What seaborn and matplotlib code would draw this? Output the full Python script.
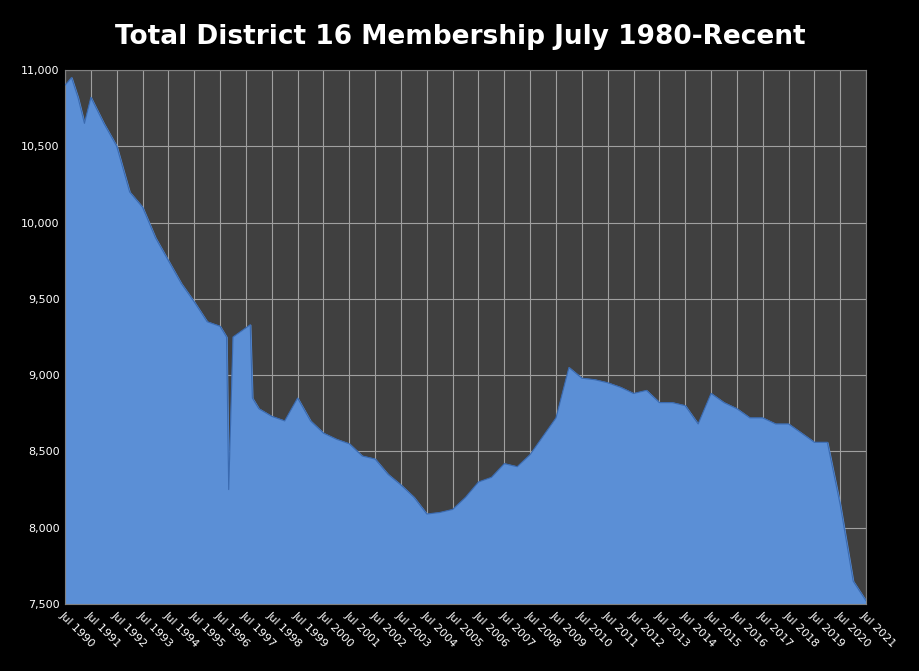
import matplotlib
matplotlib.use("Agg")
import matplotlib.pyplot as plt
import numpy as np
import pandas as pd
import seaborn as sns

# semiannual readings, starting Jul 1990 (index = months since Jul 1990)
months = [0, 3, 6, 9, 12, 18, 24, 30, 36, 42, 48, 54, 60, 66, 72, 75, 76, 78, 84, 86, 87, 90,
          96, 102, 108, 114, 120, 126, 132, 138, 144, 150, 156, 162, 168, 174, 180,
          186, 192, 198, 204, 210, 216, 222, 228, 234, 240, 246, 252, 258, 264,
          270, 276, 282, 288, 294, 300, 306, 312, 318, 324, 330, 336, 342, 348,
          354, 360, 366, 372]
members = [10900, 10950, 10820, 10650, 10820, 10650, 10500, 10200, 10100, 9900, 9750, 9600,
           9480, 9350, 9320, 9250, 8250, 9250, 9310, 9330, 8850, 8780,
           8730, 8700, 8850, 8700, 8620, 8580, 8550, 8470, 8450, 8350, 8280, 8200,
           8090, 8100, 8120, 8200, 8300, 8330, 8420, 8400, 8480, 8600, 8720, 9050,
           8980, 8970, 8950, 8920, 8880, 8900, 8820, 8820, 8800, 8680, 8880, 8820,
           8780, 8720, 8720, 8680, 8680, 8620, 8560, 8560, 8150, 7650, 7520]
years = list(range(1990, 2022))
tick_labels = [f"Jul {y}" for y in years]

df = pd.DataFrame({"month": months, "members": members})

sns.set_style("dark")
fig = plt.figure(figsize=(9.2, 6.71), dpi=100, facecolor="black")
ax = fig.add_axes([0.0707, 0.0998, 0.8707, 0.796])
ax.set_facecolor("#404040")

ax.fill_between(df["month"], 7500, df["members"], color="#5B8FD6", zorder=2)
sns.lineplot(data=df, x="month", y="members", ax=ax, color="#3A6AB0", linewidth=0.8, zorder=3)

ax.set_xlim(0, 372)
ax.set_ylim(7500, 11000)
ax.set_xticks([12 * i for i in range(len(years))])
ax.set_xticklabels(tick_labels, rotation=-45, ha="left", rotation_mode="anchor",
                   color="white", fontsize=8)
ax.set_yticks(range(7500, 11001, 500))
ax.set_yticklabels([f"{v:,}" for v in range(7500, 11001, 500)], color="white", fontsize=8)
ax.grid(True, color="#A0A0A0", linewidth=0.8, zorder=1)
ax.set_axisbelow(True)
ax.set_xlabel("")
ax.set_ylabel("")
ax.tick_params(length=0, pad=4)
for s in ax.spines.values():
    s.set_color("#808080")

fig.text(0.5, 0.945, "Total District 16 Membership July 1980-Recent", ha="center", va="center",
         color="white", fontsize=19, fontweight="bold")
fig.savefig("out.png", dpi=100, facecolor="black")
